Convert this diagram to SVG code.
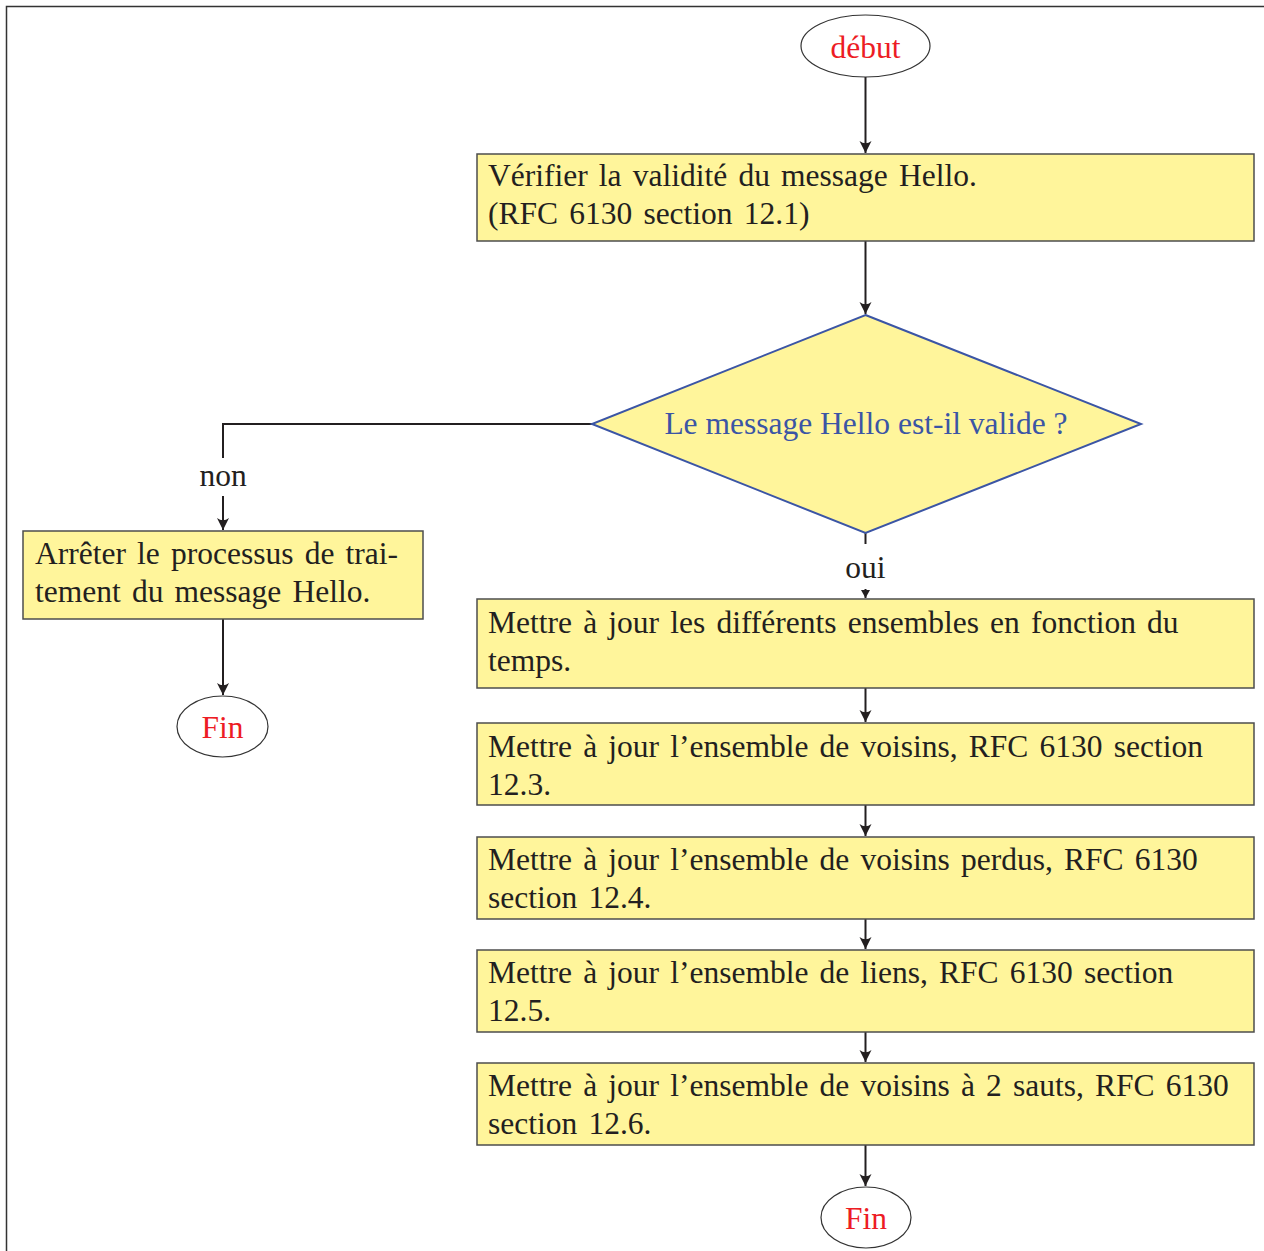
<svg xmlns="http://www.w3.org/2000/svg" width="1264" height="1251" viewBox="0 0 1264 1251">
  <style>
    text { font-family: "Liberation Serif", "Times New Roman", serif; font-size: 31.5px; fill: #231f20; }
    .box { fill: #fff59b; stroke: #4d4d4d; stroke-width: 1.5; }
    .box-text { word-spacing: 3.3px; }
    .term { fill: #ffffff; stroke: #333333; stroke-width: 1.2; }
    .term-label { fill: #ed1c24; text-anchor: middle; }
    .decision { fill: #fff59b; stroke: #3b55a5; stroke-width: 2; }
    .decision-label { fill: #3b55a5; text-anchor: middle; }
    .edge { fill: none; stroke: #231f20; stroke-width: 2; }
    .edge-label { text-anchor: middle; }
    .frame { fill: none; stroke: #333333; stroke-width: 1.5; }
  </style>
  <defs>
    <marker id="arrow" viewBox="-13 -7 14 14" refX="0" refY="0" markerWidth="14" markerHeight="14" markerUnits="userSpaceOnUse" orient="auto">
      <path d="M0,0 L-12,-6 Q-7.5,0 -12,6 Z" fill="#231f20"/>
    </marker>
    <marker id="arrow-small" viewBox="-9 -5 10 10" refX="0" refY="0" markerWidth="10" markerHeight="10" markerUnits="userSpaceOnUse" orient="auto">
      <path d="M0,0 L-8,-4.5 L-8,4.5 Z" fill="#231f20"/>
    </marker>
  </defs>

  <rect width="1264" height="1251" fill="#ffffff"/>
  <path class="frame" d="M6.5,1251 V6.5 H1264"/>

  <g id="connectors">
    <line class="edge" x1="865.5" y1="77" x2="865.5" y2="153" marker-end="url(#arrow)"/>
    <line class="edge" x1="865.5" y1="241" x2="865.5" y2="314" marker-end="url(#arrow)"/>
    <path class="edge" d="M592,424 H223 V458"/>
    <text class="edge-label" x="223" y="486">non</text>
    <line class="edge" x1="223" y1="496" x2="223" y2="530" marker-end="url(#arrow)"/>
    <line class="edge" x1="223" y1="619" x2="223" y2="695" marker-end="url(#arrow)"/>
    <line class="edge" x1="865.5" y1="533" x2="865.5" y2="544"/>
    <text class="edge-label" x="865.5" y="578">oui</text>
    <line class="edge" x1="865.5" y1="589" x2="865.5" y2="598" marker-end="url(#arrow-small)"/>
    <line class="edge" x1="865.5" y1="688" x2="865.5" y2="722" marker-end="url(#arrow)"/>
    <line class="edge" x1="865.5" y1="805" x2="865.5" y2="836" marker-end="url(#arrow)"/>
    <line class="edge" x1="865.5" y1="919" x2="865.5" y2="949" marker-end="url(#arrow)"/>
    <line class="edge" x1="865.5" y1="1032" x2="865.5" y2="1062" marker-end="url(#arrow)"/>
    <line class="edge" x1="865.5" y1="1145" x2="865.5" y2="1186" marker-end="url(#arrow)"/>
  </g>

  <g id="debut">
    <ellipse class="term" cx="865.5" cy="46" rx="64.5" ry="31"/>
    <text class="term-label" x="865.5" y="58">début</text>
  </g>

  <g id="verifier">
    <rect class="box" x="477" y="154" width="777" height="87"/>
    <text class="box-text" x="488" y="186">Vérifier la validité du message Hello.</text>
    <text class="box-text" x="488" y="224">(RFC 6130 section 12.1)</text>
  </g>

  <g id="valide">
    <polygon class="decision" points="865.5,315 1141,424 865.5,533 592,424"/>
    <text class="decision-label" x="866" y="434">Le message Hello est-il valide ?</text>
  </g>

  <g id="arreter">
    <rect class="box" x="23" y="531" width="400" height="88"/>
    <text class="box-text" x="35" y="564">Arrêter le processus de trai-</text>
    <text class="box-text" x="35" y="602">tement du message Hello.</text>
  </g>

  <g id="fin-non">
    <ellipse class="term" cx="222.5" cy="726.5" rx="45.5" ry="30.5"/>
    <text class="term-label" x="222.5" y="738">Fin</text>
  </g>

  <g id="temps">
    <rect class="box" x="477" y="599" width="777" height="89"/>
    <text class="box-text" x="488" y="633">Mettre à jour les différents ensembles en fonction du</text>
    <text class="box-text" x="488" y="671">temps.</text>
  </g>

  <g id="voisins">
    <rect class="box" x="477" y="723" width="777" height="82"/>
    <text class="box-text" x="488" y="757">Mettre à jour l’ensemble de voisins, RFC 6130 section</text>
    <text class="box-text" x="488" y="795">12.3.</text>
  </g>

  <g id="voisins-perdus">
    <rect class="box" x="477" y="837" width="777" height="82"/>
    <text class="box-text" x="488" y="870">Mettre à jour l’ensemble de voisins perdus, RFC 6130</text>
    <text class="box-text" x="488" y="908">section 12.4.</text>
  </g>

  <g id="liens">
    <rect class="box" x="477" y="950" width="777" height="82"/>
    <text class="box-text" x="488" y="983">Mettre à jour l’ensemble de liens, RFC 6130 section</text>
    <text class="box-text" x="488" y="1021">12.5.</text>
  </g>

  <g id="deux-sauts">
    <rect class="box" x="477" y="1063" width="777" height="82"/>
    <text class="box-text" x="488" y="1096">Mettre à jour l’ensemble de voisins à 2 sauts, RFC 6130</text>
    <text class="box-text" x="488" y="1134">section 12.6.</text>
  </g>

  <g id="fin-oui">
    <ellipse class="term" cx="866" cy="1217.5" rx="45" ry="30.5"/>
    <text class="term-label" x="866" y="1229">Fin</text>
  </g>
</svg>
